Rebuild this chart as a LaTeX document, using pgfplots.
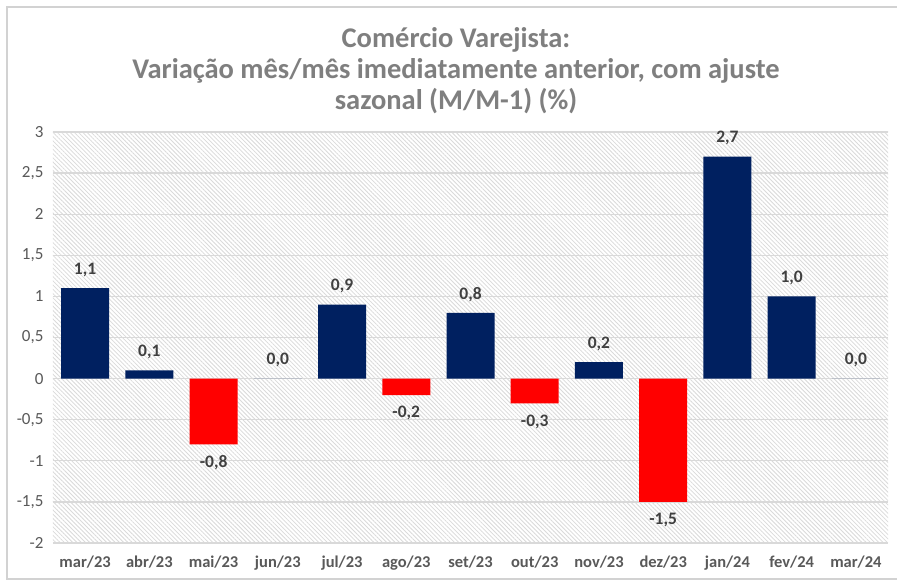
\documentclass[border=0pt]{standalone}
\usepackage{fontspec}
\setmainfont{Carlito}
\usepackage{pgfplots}
\pgfplotsset{compat=1.18}
\usetikzlibrary{patterns.meta}
\definecolor{navybar}{HTML}{002060}
\definecolor{redbar}{HTML}{FF0000}
\definecolor{titlegray}{HTML}{7F7F7F}
\definecolor{tickgray}{HTML}{595959}
\definecolor{labelgray}{HTML}{404040}
\definecolor{gridgray}{HTML}{D9D9D9}
\definecolor{hatchgray}{HTML}{DADADA}
\begin{document}
\begin{tikzpicture}[x=1pt,y=1pt]
\useasboundingbox (0,0) rectangle (897,580);
\fill[white] (0,0) rectangle (897,580);
\draw[gray!35, line width=1.2pt] (7,1) rectangle (905,573);
\node[align=center, text=titlegray, font=\fontsize{28.5}{31}\selectfont\bfseries] at (456,509)
  {Comércio Varejista:\\Variação mês/mês imediatamente anterior, com ajuste\\sazonal (M/M-1) (\%)};
\begin{axis}[
  at={(53pt,37pt)}, anchor=south west,
  scale only axis, width=835pt, height=411pt,
  xmin=-0.5, xmax=12.5, ymin=-2, ymax=3,
  axis background/.style={pattern={Lines[angle=-45,distance=3pt,line width=0.8pt]}, pattern color=hatchgray},
  axis line style={draw=none},
  major tick length=0pt,
  ymajorgrids, grid style={gridgray, line width=1.3pt},
  ytick={-2,-1.5,-1,-0.5,0,0.5,1,1.5,2,2.5,3},
  yticklabel style={text=tickgray, font=\fontsize{17}{19}\selectfont, xshift=-6pt, /pgf/number format/use comma, /pgf/number format/assume math mode=true},
  xtick={0,...,12},
  xticklabels={mar/23,abr/23,mai/23,jun/23,jul/23,ago/23,set/23,out/23,nov/23,dez/23,jan/24,fev/24,mar/24},
  xticklabel style={text=tickgray, font=\fontsize{16.5}{18}\selectfont\bfseries, yshift=-9pt},
  ybar, bar width=48pt, bar shift=0pt,
  nodes near coords,
  every node near coord/.append style={text=labelgray, outer sep=8pt, font=\fontsize{17.5}{19}\selectfont\bfseries, /pgf/number format/.cd, use comma, fixed, fixed zerofill, precision=1, assume math mode=true},
]
\addplot[fill=navybar, draw=none] coordinates {(0,1.1) (1,0.1) (3,0.0) (4,0.9) (6,0.8) (8,0.2) (10,2.7) (11,1.0) (12,0.0)};
\addplot[fill=redbar, draw=none] coordinates {(2,-0.8) (5,-0.2) (7,-0.3) (9,-1.5)};
\end{axis}
\end{tikzpicture}
\end{document}
